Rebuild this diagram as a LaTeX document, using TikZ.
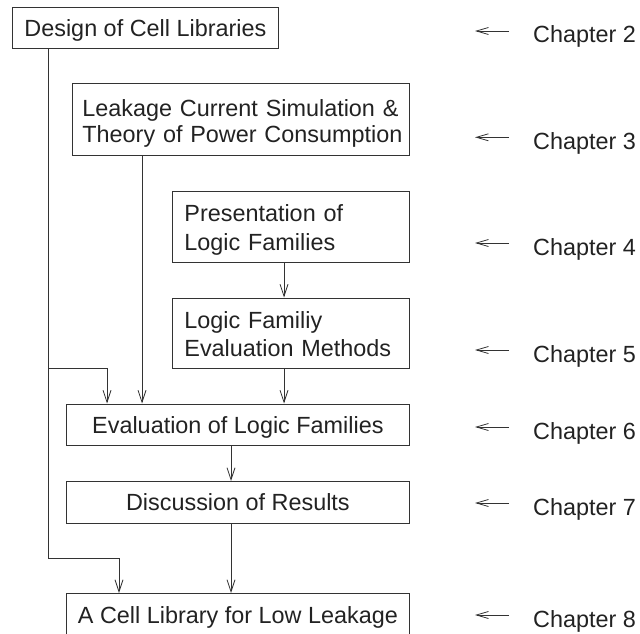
\documentclass[tikz,border=0pt]{standalone}
\usepackage{fontspec}
\setmainfont{Liberation Sans}
\usetikzlibrary{arrows.meta}
\definecolor{ink}{HTML}{222222}
\definecolor{rule}{HTML}{333333}
\begin{document}
\begin{tikzpicture}[x=1pt,y=-1pt,
  box/.style={draw=rule, line width=0.8pt, anchor=north west, inner xsep=0pt, inner ysep=0pt,
    text=ink, font=\fontsize{23.4}{26}\selectfont, text height=29.5pt, text depth=12pt},
  wrapbox/.style={box, align=left, inner xsep=12pt, text width=213pt},
  plain/.style={draw=rule, line width=0.8pt},
  link/.style={plain, -{Straight Barb[length=12pt,width=8pt]}},
  chap/.style={anchor=base west, inner sep=0pt, text=ink, font=\fontsize{23.4}{26}\selectfont},
  ptr/.style={plain, -{Straight Barb[length=12pt,width=7pt]}}]
\useasboundingbox (0,0) rectangle (640,634);
\clip (0,0) rectangle (640,634);

% chapter boxes
\node[box, minimum width=266pt] (n1) at (12,7) {Design of Cell Libraries};
\node[wrapbox, inner xsep=10pt, text width=317pt, text height=32.7pt, text depth=39.3pt,
  font=\fontsize{23.4}{26}\selectfont] (n2) at (72,83)
  {\mbox{Leakage Current Simulation \&}\\\mbox{Theory of Power Consumption}};
\node[wrapbox, text height=29.7pt, text depth=41.3pt,
  font=\fontsize{23.4}{29.3}\selectfont] (n3) at (172,191)
  {\mbox{Presentation of}\\\mbox{Logic Families}};
\node[wrapbox, text height=30.6pt, text depth=39.4pt,
  font=\fontsize{23.4}{28.3}\selectfont] (n4) at (172,297.5)
  {\mbox{Logic Familiy}\\\mbox{Evaluation Methods}};
\node[box, minimum width=343pt] (n5) at (66,403.5) {Evaluation of Logic Families};
\node[box, minimum width=343pt] (n6) at (66,481) {Discussion of Results};
\node[box, minimum width=343pt, text height=30pt, text depth=14pt] (n7) at (66,593)
  {A Cell Library for Low Leakage};

% dependencies between the chapters
\coordinate (j1) at (48,368);
\coordinate (j2) at (48,558);
\draw[plain] (n1.south -| j1) -- (j2);
\draw[link] (j1) -| ([xshift=41pt]n5.north west);
\draw[link] (j2) -| ([xshift=53pt]n7.north west);
\draw[link] ([xshift=70pt]n2.south west) -- ([xshift=70pt]n2.south west |- n5.north);
\draw[link] ([xshift=112pt]n3.south west) -- ([xshift=112pt]n3.south west |- n4.north);
\draw[link] ([xshift=112pt]n4.south west) -- ([xshift=112pt]n4.south west |- n5.north);
\draw[link] ([xshift=165pt]n5.south west) -- ([xshift=165pt]n5.south west |- n6.north);
\draw[link] ([xshift=165pt]n6.south west) -- ([xshift=165pt]n6.south west |- n7.north);

% chapter labels with their pointers
\foreach \k/\y in {2/31, 3/137.3, 4/243, 5/350, 6/427, 7/503, 8/615} {
  \node[chap] (c\k) at (533,\y+12) {Chapter \k};
  \coordinate (s\k) at (509,\y);
  \coordinate (e\k) at (475,\y);
  \draw[ptr] (s\k) -- (e\k);
}
\end{tikzpicture}
\end{document}
